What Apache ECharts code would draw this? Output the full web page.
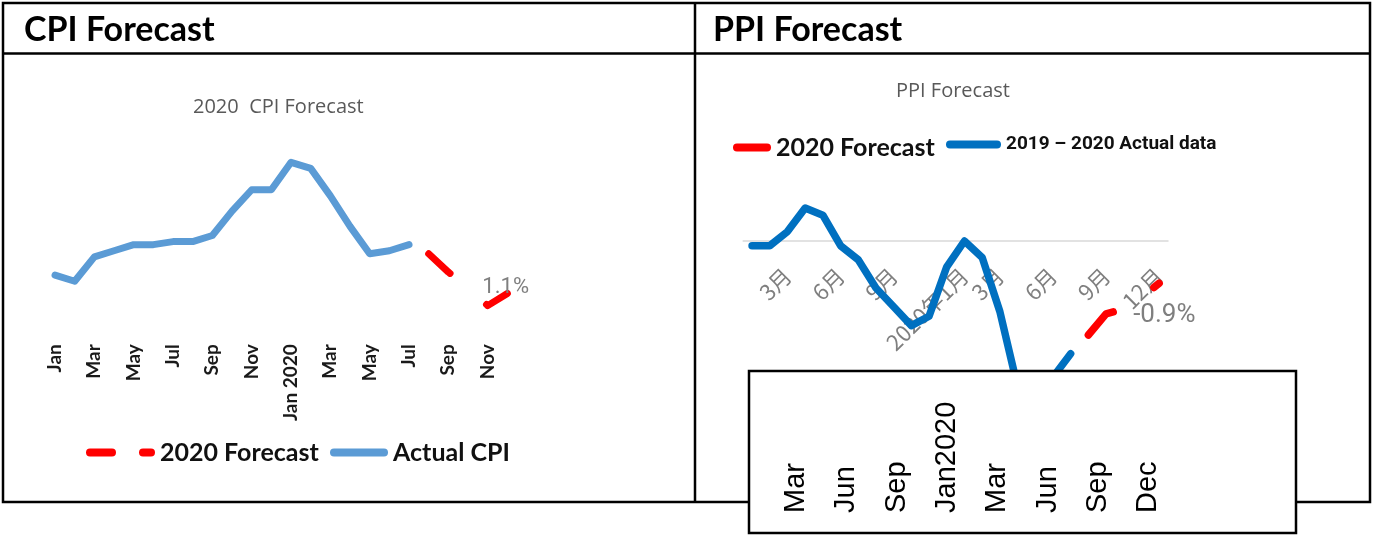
<!DOCTYPE html>
<html>
<head>
<meta charset="utf-8">
<script src="https://cdn.jsdelivr.net/npm/echarts@6/dist/echarts.min.js"></script>
<style>
html,body{margin:0;padding:0;background:#fff;}
#main{width:1378px;height:540px;}
</style>
</head>
<body>
<div id="main"></div>
<script>
// CPI, Jan 2019 .. Dec 2020
var cpiMonths = ['Jan','Feb','Mar','Apr','May','Jun','Jul','Aug','Sep','Oct','Nov','Dec',
  'Jan 2020','Feb','Mar','Apr','May','Jun','Jul','Aug','Sep','Oct','Nov','Dec'];
var cpiActual = [1.7,1.5,2.3,2.5,2.7,2.7,2.8,2.8,3.0,3.8,4.5,4.5,5.4,5.2,4.3,3.3,2.4,2.5,2.7];
var cpiForecast = [null,null,null,null,null,null,null,null,null,null,null,null,
  null,null,null,null,null,null,null,2.4,1.8,1.3,0.7,1.1];

// PPI, Jan 2019 .. Dec 2020
var ppiMonths = ['2019-01','2019-02','2019-03','2019-04','2019-05','2019-06','2019-07','2019-08','2019-09','2019-10','2019-11','2019-12',
  '2020-01','2020-02','2020-03','2020-04','2020-05','2020-06','2020-07','2020-08','2020-09','2020-10','2020-11','2020-12'];
var ppiTickLabels = ['','','3月','','','6月','','','9月','','','',
  '2020年1月','','3月','','','6月','','','9月','','','12月'];
var ppiActual = [-0.1,-0.1,0.2,0.7,0.55,-0.1,-0.4,-1.0,-1.4,-1.8,-1.6,-0.55,0.0,-0.35,-1.5,-3.1,-3.7,-2.9,-2.4];
var ppiForecast = [null,null,null,null,null,null,null,null,null,null,null,null,
  null,null,null,null,null,null,null,-2.0,-1.55,-1.45,-1.2,-0.9];

// labels of the pasted box
var boxLabels = ['Mar','Jun','Sep','Jan2020','Mar','Jun','Sep','Dec'];

var narrow = "'Liberation Sans Narrow', Roboto, sans-serif";
var legendFont = {fontFamily:'Lato', fontWeight:'bold', fontSize:25, color:'#111'};

var option = {
  animation: false,
  title: [
    {text:'2020  CPI Forecast', left:193, top:97, padding:0,
     textStyle:{fontFamily:'Open Sans', fontWeight:'normal', fontSize:20, color:'#595959'}},
    {text:'PPI Forecast', left:896, top:81, padding:0,
     textStyle:{fontFamily:'Open Sans', fontWeight:'normal', fontSize:20, color:'#595959'}}
  ],
  legend: [
    {data:[{name:'2020 Forecast',
      icon:'path://M4,0 H26 A4,4 0 0 1 26,8 H4 A4,4 0 0 1 4,0 Z M57,0 H65 A4,4 0 0 1 65,8 H57 A4,4 0 0 1 57,0 Z',
      itemStyle:{color:'#FF0000', borderWidth:0}}],
     left:86, top:440, itemWidth:69, itemHeight:8, padding:0, selectedMode:false,
     itemStyle:{borderWidth:0}, textStyle:legendFont},
    {data:[{name:'Actual CPI', icon:'path://M4,0 H54 A4,4 0 0 1 54,8 H4 A4,4 0 0 1 4,0 Z',
      itemStyle:{color:'#5B9BD5', borderWidth:0}}],
     left:330, top:440, itemWidth:58, itemHeight:8, padding:0, selectedMode:false,
     itemStyle:{borderWidth:0}, textStyle:legendFont},
    {data:[{name:'2020 Forecast', icon:'path://M4,0 H34 A4,4 0 0 1 34,8 H4 A4,4 0 0 1 4,0 Z',
      itemStyle:{color:'#FF0000', borderWidth:0}}],
     left:733, top:135, itemWidth:38, itemHeight:8, padding:0, selectedMode:false,
     itemStyle:{borderWidth:0}, textStyle:legendFont},
    {data:[{name:'2019 – 2020 Actual data', icon:'path://M4,0 H51 A4,4 0 0 1 51,8 H4 A4,4 0 0 1 4,0 Z',
      itemStyle:{color:'#0070C0', borderWidth:0},
      textStyle:{fontFamily:narrow, fontWeight:'bold', fontSize:19, color:'#111'}}],
     left:946, top:135, itemWidth:55, itemHeight:8, padding:0, selectedMode:false,
     itemStyle:{borderWidth:0}, textStyle:legendFont}
  ],
  grid: [
    {left:45.2, width:472, top:144, height:195.2, outerBoundsMode:'none'},
    {left:743.2, width:424.8, top:194, height:47, outerBoundsMode:'none'},
    {left:771, width:402.4, top:513, height:10, outerBoundsMode:'none'}
  ],
  xAxis: [
    {gridIndex:0, type:'category', data:cpiMonths, boundaryGap:true,
     axisLine:{show:false}, axisTick:{show:false},
     axisLabel:{interval:1, rotate:90, margin:5, fontFamily:'Lato', fontWeight:'bold', fontSize:19, color:'#1a1a1a'}},
    {gridIndex:1, type:'category', data:ppiMonths, boundaryGap:true,
     axisLine:{show:true, onZero:false, lineStyle:{color:'#d9d9d9', width:1.5}}, axisTick:{show:false},
     axisLabel:{interval:0, rotate:45, margin:31, fontFamily:'Noto Sans CJK SC', fontSize:22, color:'#7f7f7f',
       formatter:function(v, i){ return ppiTickLabels[i]; }}},
    {gridIndex:2, type:'category', data:boxLabels, position:'top', boundaryGap:true, z:120,
     axisLine:{show:false}, axisTick:{show:false},
     axisLabel:{interval:0, rotate:90, margin:0, fontFamily:'Liberation Sans', fontSize:29, color:'#000',
       formatter:function(v, i){ return boxLabels[i]; }}}
  ],
  yAxis: [
    {gridIndex:0, type:'value', min:-0.4, max:6, show:false},
    {gridIndex:1, type:'value', min:0, max:1, show:false},
    {gridIndex:2, type:'value', show:false}
  ],
  graphic: [
    {type:'rect', silent:true, z:1, shape:{x:3,y:3,width:1367,height:499},
     style:{fill:'none', stroke:'#000', lineWidth:2.5}},
    {type:'line', silent:true, z:1, shape:{x1:3,y1:53.5,x2:1370,y2:53.5}, style:{stroke:'#000', lineWidth:2.5}},
    {type:'line', silent:true, z:1, shape:{x1:695,y1:3,x2:695,y2:502}, style:{stroke:'#000', lineWidth:2.5}},
    {type:'text', silent:true, z:5, x:24, y:30,
     style:{text:'CPI Forecast', font:'bold 34px Lato', fill:'#000', verticalAlign:'middle'}},
    {type:'text', silent:true, z:5, x:713, y:30,
     style:{text:'PPI Forecast', font:'bold 34px Lato', fill:'#000', verticalAlign:'middle'}},
    {type:'rect', silent:true, z:100, shape:{x:749,y:371,width:547,height:162},
     style:{fill:'#fff', stroke:'#000', lineWidth:2.5}}
  ],
  series: [
    {name:'Actual CPI', type:'line', xAxisIndex:0, yAxisIndex:0, data:cpiActual,
     symbol:'none', silent:true, itemStyle:{color:'#5B9BD5'},
     lineStyle:{color:'#5B9BD5', width:7, cap:'round', join:'round'}},
    {name:'2020 Forecast', type:'line', xAxisIndex:0, yAxisIndex:0, data:cpiForecast,
     symbol:'none', silent:true, itemStyle:{color:'#FF0000'},
     lineStyle:{color:'#FF0000', width:7, type:[29,48], cap:'round', join:'round'},
     endLabel:{show:true, distance:0, offset:[-25,-6], fontFamily:narrow, fontSize:22, color:'#7f7f7f',
       formatter:function(p){ return p.value + '%'; }}},
    {name:'2019 – 2020 Actual data', type:'line', xAxisIndex:1, yAxisIndex:1, data:ppiActual,
     symbol:'none', silent:true, clip:false, itemStyle:{color:'#0070C0'},
     lineStyle:{color:'#0070C0', width:7.5, cap:'round', join:'round'}},
    {name:'2020 Forecast', type:'line', xAxisIndex:1, yAxisIndex:1, data:ppiForecast,
     symbol:'none', silent:true, clip:false, itemStyle:{color:'#FF0000'},
     lineStyle:{color:'#FF0000', width:7.5, type:[35,48], cap:'round', join:'round'},
     endLabel:{show:true, distance:0, offset:[-26,32], fontFamily:narrow, fontSize:26, color:'#7f7f7f',
       formatter:function(p){ return p.value + '%'; }}}
  ]
};

var myChart = echarts.init(document.getElementById('main'));
myChart.setOption(option);
</script>
</body>
</html>
